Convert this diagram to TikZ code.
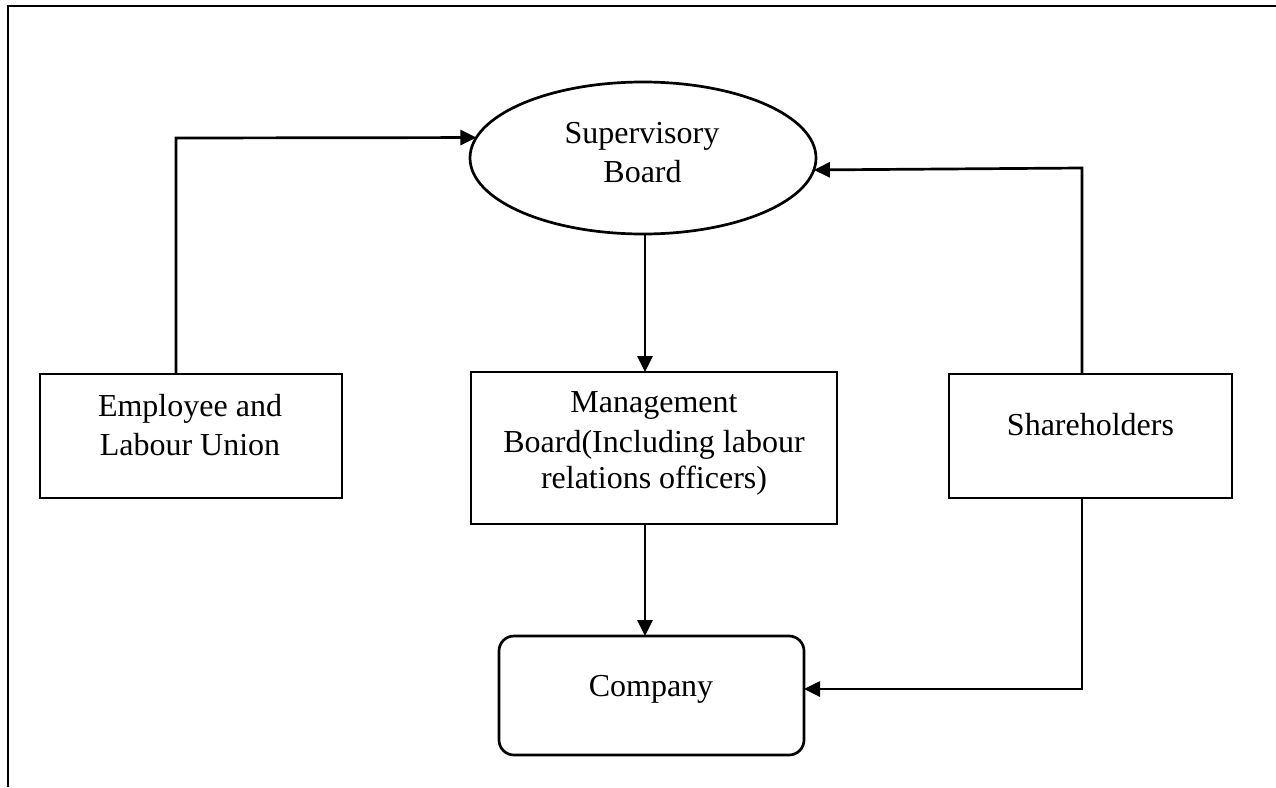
\documentclass[tikz,border=0pt]{standalone}
\usepackage{fontspec}
\setmainfont{Liberation Serif}
\usetikzlibrary{arrows.meta,shapes.geometric}
\begin{document}
\begin{tikzpicture}[x=1pt,y=-1pt,
  line width=2.7pt,
  box/.style={draw, rectangle, inner sep=0pt, outer sep=0pt},
  oval/.style={draw, ellipse, inner sep=0pt, outer sep=0pt},
  rbox/.style={draw, rectangle, rounded corners=15pt, inner sep=0pt, outer sep=0pt},
  txt/.style={font=\fontsize{32}{38}\selectfont, anchor=base, inner sep=0pt},
  link/.style={-{Triangle[length=16pt,width=15pt]}, line width=2.7pt}]
\useasboundingbox (0,0) rectangle (1276,787);

% open frame: top and left edges only
\draw[line width=2pt] (8,787) -- (8,6) -- (1276,6);

% shapes
\node[oval, minimum width=346pt, minimum height=152pt] (sup) at (643,158) {};
\node[box, minimum width=302pt, minimum height=124pt] (emp) at (191,436) {};
\node[box, minimum width=366pt, minimum height=152pt] (mgmt) at (654,448) {};
\node[box, minimum width=283pt, minimum height=124pt] (share) at (1090.5,436) {};
\node[rbox, minimum width=305pt, minimum height=119pt] (comp) at (651.5,695.5) {};

% labels
\node[txt] (supa) at (642,143) {Supervisory};
\node[txt] (supb) at (642.5,182) {Board};
\node[txt] (empa) at (190,416) {Employee and};
\node[txt] (empb) at (190,455) {Labour Union};
\node[txt] (mgmta) at (654,412) {Management};
\node[txt] (mgmtb) at (654,452) {Board(Including labour};
\node[txt] (mgmtc) at (654,488) {relations officers)};
\node[txt] (sharea) at (1090.5,435) {Shareholders};
\node[txt] (compa) at (651,696) {Company};

% routing points
\coordinate (ec) at (176,138);
\coordinate (sc) at (1082,168);
\coordinate (cc) at (1082,689);
\coordinate (mx) at (645,0);

% connectors
\draw[link] (emp.north -| ec) -- (ec) -- (sup.173.2);
\draw[link] (share.north -| sc) -- (sc) -- (sup.356.66);
\draw[link] (sup.south -| mx) -- (mgmt.north -| mx);
\draw[link] (mgmt.south -| mx) -- (comp.north -| mx);
\draw[link] (share.south -| sc) -- (cc) -- (comp.east |- cc);
\end{tikzpicture}
\end{document}
